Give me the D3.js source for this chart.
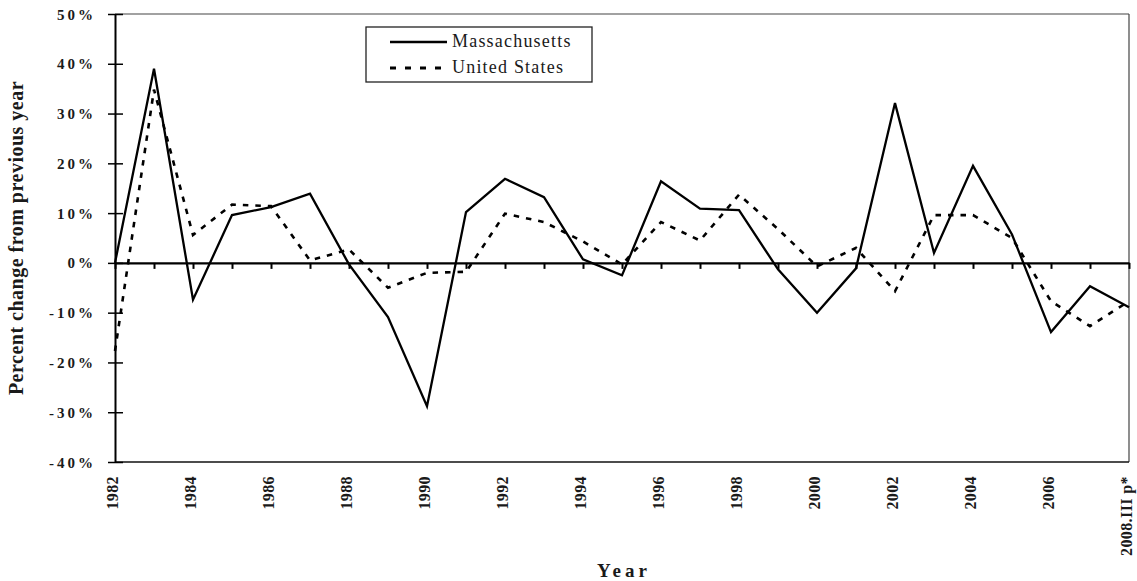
<!DOCTYPE html>
<html>
<head>
<meta charset="utf-8">
<script src="https://cdn.jsdelivr.net/npm/d3@7/dist/d3.min.js"></script>
<style>
  html, body { margin: 0; padding: 0; background: #fff; }
  svg { display: block; }
  text { font-family: "Liberation Serif", "Times New Roman", serif; fill: #1a1a1a; }
</style>
</head>
<body>
<svg id="chart" width="1137" height="581"></svg>
<script>
const categories = ["1982","1983","1984","1985","1986","1987","1988","1989","1990","1991",
  "1992","1993","1994","1995","1996","1997","1998","1999","2000","2001",
  "2002","2003","2004","2005","2006","2007","2008.III p*"];
const massachusetts = [0, 39, -7.4, 9.6, 11.2, 13.9, -0.3, -10.9, -28.8, 10.2,
  16.9, 13.2, 0.7, -2.5, 16.4, 10.9, 10.6, -1.3, -10.0, -1.1,
  32.1, 2.0, 19.5, 5.7, -13.9, -4.7, -8.9];
const unitedStates = [-17.7, 34.8, 5.6, 11.7, 11.4, 0.5, 2.7, -5.0, -2.0, -1.8,
  9.9, 8.2, 4.3, -0.3, 8.2, 4.5, 13.7, 6.8, -0.7, 3.0,
  -5.7, 9.6, 9.6, 5.0, -7.7, -12.7, -7.7];
const yTicks = [-40, -30, -20, -10, 0, 10, 20, 30, 40, 50];
const seriesNames = ["Massachusetts", "United States"];

const L = 115, R = 1129, T = 14, B = 462;
const svg = d3.select("#chart");

const x = d3.scalePoint().domain(categories).range([L, R]).padding(0);
const y = d3.scaleLinear().domain([-40, 50]).range([B, T]);

// plot frame (top, right, bottom)
svg.append("line").attr("x1", L).attr("x2", R).attr("y1", T).attr("y2", T)
  .attr("stroke", "#444").attr("stroke-width", 1.2);
svg.append("line").attr("x1", R).attr("x2", R).attr("y1", T).attr("y2", B)
  .attr("stroke", "#444").attr("stroke-width", 1.2);
svg.append("line").attr("x1", L).attr("x2", R).attr("y1", B).attr("y2", B)
  .attr("stroke", "#111").attr("stroke-width", 1.5);

// Y axis with crossing ticks
const yAxis = d3.axisLeft(y).tickValues(yTicks).tickSizeInner(7).tickSizeOuter(0)
  .tickFormat(d => d + "%");
const yg = svg.append("g").attr("transform", `translate(${L},0)`).call(yAxis);
yg.select(".domain").attr("stroke", "#000").attr("stroke-width", 2);
yg.selectAll(".tick line").attr("x1", -7).attr("x2", 8).attr("stroke", "#000").attr("stroke-width", 1.5);
yg.selectAll(".tick text")
  .attr("x", -19).attr("dy", "0.34em")
  .style("font-family", '"Liberation Serif", "Times New Roman", serif')
  .style("font-size", "15px").style("font-weight", "bold").style("letter-spacing", "3px")
  .attr("fill", "#1a1a1a");

// zero line with ticks hanging below
const xAxisZero = d3.axisBottom(x).tickSizeInner(6).tickSizeOuter(0).tickFormat("");
const xg0 = svg.append("g").attr("transform", `translate(0,${y(0)})`).call(xAxisZero);
xg0.select(".domain").attr("stroke", "#000").attr("stroke-width", 2.3);
xg0.selectAll(".tick line").attr("stroke", "#000").attr("stroke-width", 2);

// category labels at bottom, rotated
const labelCats = categories.filter((d, i) => i % 2 === 0);
svg.append("g").selectAll("text").data(labelCats).join("text")
  .attr("transform", d => `translate(${x(d) + 2.5},476) rotate(-90)`)
  .attr("text-anchor", "end")
  .style("font-size", "16px").style("font-weight", "bold").style("letter-spacing", "0.4px")
  .text(d => d);

// lines
const line = d3.line().x((d, i) => x(categories[i])).y(d => y(d));
svg.append("path").datum(unitedStates).attr("d", line)
  .attr("fill", "none").attr("stroke", "#000").attr("stroke-width", 2.6)
  .attr("stroke-dasharray", "5.5,7");
svg.append("path").datum(massachusetts).attr("d", line)
  .attr("fill", "none").attr("stroke", "#000").attr("stroke-width", 2.3)
  .attr("stroke-linejoin", "miter");

// axis titles
svg.append("text")
  .attr("transform", `translate(23,${(T + B) / 2}) rotate(-90)`)
  .attr("text-anchor", "middle")
  .style("font-size", "20px").style("font-weight", "bold").style("letter-spacing", "0.5px")
  .text("Percent change from previous year");
svg.append("text")
  .attr("x", (L + R) / 2 + 2).attr("y", 577)
  .attr("text-anchor", "middle")
  .style("font-size", "19px").style("font-weight", "bold").style("letter-spacing", "4px")
  .text("Year");

// legend
const lg = svg.append("g");
lg.append("rect").attr("x", 366).attr("y", 27).attr("width", 226).attr("height", 55)
  .attr("fill", "#fff").attr("stroke", "#222").attr("stroke-width", 1.3);
const legendItems = [
  { name: seriesNames[0], dash: null, ly: 42, ty: 47, sw: 2.3 },
  { name: seriesNames[1], dash: "6,9", ly: 68, ty: 73, sw: 2.8 }
];
legendItems.forEach(it => {
  lg.append("line").attr("x1", 390).attr("x2", 447).attr("y1", it.ly).attr("y2", it.ly)
    .attr("stroke", "#000").attr("stroke-width", it.sw)
    .attr("stroke-dasharray", it.dash);
  lg.append("text").attr("x", 452).attr("y", it.ty)
    .style("font-size", "18px").style("letter-spacing", "1.2px")
    .text(it.name);
});
</script>
</body>
</html>
